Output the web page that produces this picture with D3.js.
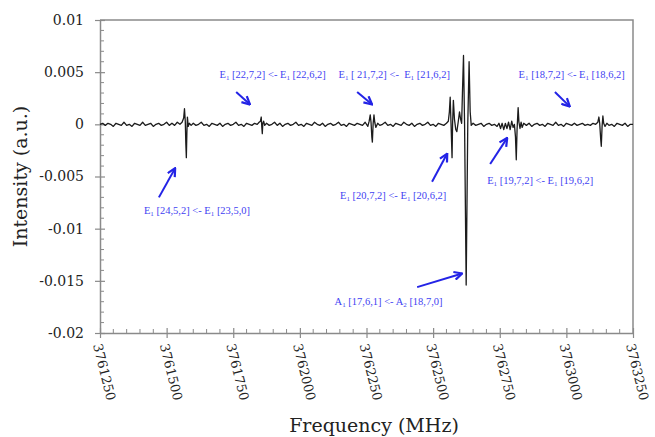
<!DOCTYPE html>
<html>
<head>
<meta charset="utf-8">
<script src="https://cdn.jsdelivr.net/npm/d3@7"></script>
<style>
  body { margin: 0; background: #fff; }
  svg { display: block; }
</style>
</head>
<body>
<svg id="chart" width="655" height="437"></svg>
<script>
// spectrum: frequency (MHz) and intensity (a.u.)
var spectrum = [
  [3761250, 0.0000], [3761260, 0.0001], [3761270, -0.0001], [3761280, 0.0001], [3761290, 0.0000],
  [3761300, -0.0002], [3761310, 0.0001], [3761320, 0.0000], [3761330, -0.0001], [3761340, 0.0002],
  [3761350, -0.0001], [3761360, 0.0000], [3761370, -0.0002], [3761380, 0.0001], [3761390, 0.0000],
  [3761400, -0.0001], [3761410, 0.0002], [3761420, -0.0001], [3761430, 0.0000], [3761440, 0.0001],
  [3761450, -0.0002], [3761460, 0.0000], [3761470, 0.0001], [3761480, -0.0001], [3761490, 0.0000],
  [3761500, 0.0002], [3761510, -0.0001], [3761520, 0.0001], [3761530, -0.0001], [3761540, 0.0002],
  [3761550, 0.0000], [3761558, 0.0002],
  [3761564, 0.0006], [3761567, 0.0015], [3761570, 0.0003], [3761572, -0.0018], [3761574, -0.0032],
  [3761576, -0.0008], [3761578, 0.0007], [3761581, -0.0002], [3761585, 0.0001], [3761592, -0.0001],
  [3761600, 0.0001], [3761610, -0.0001], [3761620, 0.0000], [3761630, 0.0002], [3761640, -0.0001],
  [3761650, 0.0000], [3761660, -0.0002], [3761670, 0.0001], [3761680, 0.0000], [3761690, -0.0001],
  [3761700, 0.0001], [3761710, -0.0002], [3761720, 0.0000], [3761730, 0.0001], [3761740, -0.0001],
  [3761750, 0.0000], [3761760, 0.0002], [3761770, -0.0001], [3761780, 0.0000], [3761790, -0.0002],
  [3761800, 0.0001], [3761810, 0.0000], [3761820, -0.0001], [3761830, 0.0001], [3761840, 0.0000],
  [3761847, 0.0002], [3761852, 0.0003], [3761855, 0.0007], [3761857, -0.0002], [3761859, -0.0009],
  [3761861, 0.0001], [3761864, 0.0003], [3761868, -0.0001], [3761875, 0.0001], [3761885, -0.0001],
  [3761895, 0.0000], [3761905, 0.0002], [3761915, -0.0001], [3761925, 0.0001], [3761935, -0.0002],
  [3761945, 0.0000], [3761955, 0.0001], [3761965, -0.0001], [3761975, 0.0000], [3761985, 0.0002],
  [3761995, -0.0001], [3762005, 0.0000], [3762015, -0.0002], [3762025, 0.0001], [3762035, 0.0000],
  [3762045, -0.0001], [3762055, 0.0002], [3762065, 0.0000], [3762075, -0.0001], [3762085, 0.0001],
  [3762095, -0.0002], [3762105, 0.0000], [3762115, 0.0001], [3762125, -0.0001], [3762135, 0.0000],
  [3762145, 0.0002], [3762155, -0.0001], [3762165, 0.0000], [3762175, -0.0002], [3762185, 0.0001],
  [3762195, 0.0000], [3762205, -0.0001], [3762215, 0.0001], [3762225, 0.0000], [3762235, -0.0001],
  [3762245, 0.0002], [3762255, -0.0002],
  [3762260, 0.0003], [3762264, 0.0009], [3762267, 0.0002], [3762270, -0.0012], [3762272, -0.0017],
  [3762275, 0.0001], [3762278, 0.0009], [3762281, 0.0002], [3762285, -0.0003], [3762292, 0.0001],
  [3762300, -0.0001], [3762310, 0.0000], [3762320, 0.0002], [3762330, -0.0001], [3762340, 0.0000],
  [3762350, -0.0002], [3762360, 0.0001], [3762370, 0.0000], [3762380, -0.0001], [3762390, 0.0002],
  [3762400, 0.0000], [3762410, -0.0001], [3762420, 0.0001], [3762430, -0.0002], [3762440, 0.0000],
  [3762450, 0.0001], [3762460, -0.0001], [3762470, 0.0000], [3762480, 0.0002], [3762490, -0.0001],
  [3762500, 0.0000], [3762510, -0.0002], [3762520, 0.0001], [3762530, 0.0000], [3762540, -0.0001],
  [3762550, 0.0001], [3762557, 0.0003], [3762561, 0.0012], [3762564, 0.0026], [3762567, 0.0002],
  [3762571, -0.0032], [3762573, 0.0000], [3762576, 0.0023], [3762580, 0.0005], [3762585, -0.0005],
  [3762589, -0.0007], [3762594, 0.0002], [3762599, 0.0012], [3762603, 0.0005], [3762607, 0.0001],
  [3762610, 0.0030], [3762614, 0.0066], [3762618, 0.0000], [3762624, -0.0154], [3762630, 0.0000],
  [3762635, 0.0060], [3762639, 0.0012], [3762643, -0.0001], [3762650, 0.0001], [3762660, -0.0001],
  [3762670, 0.0000], [3762680, 0.0001], [3762690, -0.0002], [3762700, 0.0000], [3762710, 0.0001],
  [3762720, -0.0001], [3762730, 0.0000], [3762740, -0.0002], [3762747, 0.0001], [3762753, -0.0004],
  [3762759, 0.0001], [3762765, -0.0005], [3762771, 0.0001], [3762777, -0.0004], [3762783, 0.0002],
  [3762789, -0.0005], [3762795, 0.0003], [3762800, -0.0003], [3762805, 0.0000], [3762809, -0.0012],
  [3762812, -0.0034], [3762815, -0.0005], [3762819, 0.0016], [3762822, 0.0002], [3762826, -0.0004],
  [3762830, 0.0002], [3762834, -0.0003], [3762840, 0.0001], [3762850, -0.0001], [3762860, 0.0001],
  [3762870, -0.0002], [3762880, 0.0000], [3762890, 0.0001], [3762900, -0.0001], [3762910, 0.0000],
  [3762920, -0.0002], [3762930, 0.0001], [3762940, 0.0000], [3762950, -0.0001], [3762960, 0.0002],
  [3762970, -0.0001], [3762980, 0.0000], [3762990, -0.0002], [3763000, 0.0001], [3763010, 0.0000],
  [3763020, -0.0001], [3763030, 0.0001], [3763040, -0.0001], [3763050, 0.0000], [3763060, 0.0001],
  [3763070, -0.0001], [3763080, 0.0000], [3763090, -0.0001], [3763100, 0.0001], [3763110, 0.0000],
  [3763118, 0.0002], [3763122, 0.0007], [3763125, 0.0001], [3763129, -0.0015], [3763131, -0.0021],
  [3763134, -0.0002], [3763137, 0.0008], [3763140, 0.0001], [3763145, -0.0002], [3763152, 0.0001],
  [3763160, -0.0001], [3763170, 0.0000], [3763180, -0.0002], [3763190, 0.0001], [3763200, 0.0000],
  [3763210, -0.0001], [3763220, 0.0001], [3763230, -0.0002], [3763240, 0.0000], [3763250, 0.0000]
];

// axis ticks
var xTicks = [3761250, 3761500, 3761750, 3762000, 3762250, 3762500, 3762750, 3763000, 3763250];
var yTicks = [0.01, 0.005, 0, -0.005, -0.01, -0.015, -0.02];
var yTickLabels = ["0.01", "0.005", "0", "-0.005", "-0.01", "-0.015", "-0.02"];

// assignments: label, text spot, arrow tail and arrow tip (all in freq / intensity)
var annLabels = [
  "E_1 [22,7,2] <- E_1 [22,6,2]",
  "E_1 [ 21,7,2] <-  E_1 [21,6,2]",
  "E_1 [18,7,2] <- E_1 [18,6,2]",
  "E_1 [24,5,2] <- E_1 [23,5,0]",
  "E_1 [20,7,2] <- E_1 [20,6,2]",
  "E_1 [19,7,2] <- E_1 [19,6,2]",
  "A_1 [17,6,1] <- A_2 [18,7,0]"
];
var annText = [[3761898, 0.0044], [3762354, 0.0044], [3763020, 0.0044], [3761614, -0.0086],
               [3762350, -0.0072], [3762902, -0.0057], [3762333, -0.0173]];
var annFrom = [[3761761, 0.0031], [3762215, 0.0031], [3762957, 0.0031], [3761471, -0.0070],
               [3762496, -0.0055], [3762714, -0.0038], [3762440, -0.0156]];
var annTo   = [[3761813, 0.0019], [3762271, 0.0019], [3763013, 0.0017], [3761532, -0.0042],
               [3762553, -0.0028], [3762778, -0.0013], [3762609, -0.0143]];

var margin = {left: 100, top: 20, right: 22, bottom: 104};
var svg = d3.select("#chart");
var W = +svg.attr("width"), H = +svg.attr("height");
var x0 = margin.left, x1 = W - margin.right, y0 = margin.top, y1 = H - margin.bottom;

var x = d3.scaleLinear().domain([3761250, 3763250]).range([x0, x1]);
var y = d3.scaleLinear().domain([-0.02, 0.01]).range([y1, y0]);

var axisCol = "#8a8a8a";
var serif = "'DejaVu Serif', serif";

// frame (top and right)
svg.append("path")
  .attr("d", "M" + x0 + "," + y0 + "H" + x1 + "V" + y1)
  .attr("fill", "none").attr("stroke", axisCol).attr("stroke-width", 1.5);

// minor ticks
var xMinor = d3.range(3761250, 3763250, 50).filter(function(d){ return (d - 3761250) % 250 != 0; });
var yMinor = d3.range(-20, 10, 1).filter(function(d){ return d % 5 != 0; }).map(function(d){ return d / 1000; });

svg.append("g").selectAll("line").data(xMinor).join("line")
  .attr("x1", function(d){ return x(d); }).attr("x2", function(d){ return x(d); })
  .attr("y1", y1).attr("y2", y1 - 4)
  .attr("stroke", axisCol).attr("stroke-width", 1);

svg.append("g").selectAll("line").data(yMinor).join("line")
  .attr("y1", function(d){ return y(d); }).attr("y2", function(d){ return y(d); })
  .attr("x1", x0).attr("x2", x0 + 4)
  .attr("stroke", axisCol).attr("stroke-width", 1);

// x axis
var gx = svg.append("g").attr("transform", "translate(0," + y1 + ")")
  .call(d3.axisBottom(x).tickValues(xTicks).tickSize(0).tickFormat(d3.format("d")));
gx.select(".domain").attr("stroke", axisCol).attr("stroke-width", 1.5);
gx.selectAll(".tick").append("line")
  .attr("y1", -5).attr("y2", 5).attr("stroke", axisCol).attr("stroke-width", 1.2);
gx.selectAll(".tick text")
  .attr("font-family", serif).attr("font-size", 13).attr("fill", "#222")
  .attr("text-anchor", "start")
  .attr("y", 0).attr("dy", "0.35em")
  .attr("transform", "translate(-3,11) rotate(76)");

// y axis
var gy = svg.append("g").attr("transform", "translate(" + x0 + ",0)")
  .call(d3.axisLeft(y).tickValues(yTicks).tickSize(0)
    .tickFormat(function(d, i){ return yTickLabels[i]; }));
gy.select(".domain").attr("stroke", axisCol).attr("stroke-width", 1.5);
gy.selectAll(".tick").append("line")
  .attr("x1", -5).attr("x2", 5).attr("stroke", axisCol).attr("stroke-width", 1.2);
gy.selectAll(".tick text")
  .attr("font-family", serif).attr("font-size", 14).attr("fill", "#222")
  .attr("x", -16);

// axis titles
svg.append("text")
  .attr("x", 374).attr("y", 432)
  .attr("text-anchor", "middle")
  .attr("font-family", serif).attr("font-size", 19).attr("fill", "#222")
  .text("Frequency (MHz)");

svg.append("text")
  .attr("transform", "translate(27," + ((y0 + y1) / 2) + ") rotate(-90)")
  .attr("text-anchor", "middle")
  .attr("font-family", serif).attr("font-size", 19).attr("fill", "#222")
  .text("Intensity (a.u.)");

// spectrum
var line = d3.line()
  .x(function(d){ return x(d[0]); })
  .y(function(d){ return y(d[1]); });

svg.append("path")
  .datum(spectrum)
  .attr("d", line)
  .attr("fill", "none")
  .attr("stroke", "#1c1c1c")
  .attr("stroke-width", 1.3)
  .attr("stroke-linejoin", "round");

// arrows
svg.append("defs").append("marker")
  .attr("id", "head")
  .attr("viewBox", "0 0 10 10")
  .attr("refX", 9).attr("refY", 5)
  .attr("markerWidth", 10).attr("markerHeight", 10)
  .attr("markerUnits", "userSpaceOnUse")
  .attr("orient", "auto")
  .append("path")
  .attr("d", "M1,1 L9,5 L1,9")
  .attr("fill", "none").attr("stroke", "#2323e6").attr("stroke-width", 2.2);

svg.append("g").selectAll("line").data(annFrom).join("line")
  .attr("x1", function(d){ return x(d[0]); }).attr("y1", function(d){ return y(d[1]); })
  .attr("x2", function(d, i){ return x(annTo[i][0]); }).attr("y2", function(d, i){ return y(annTo[i][1]); })
  .attr("stroke", "#2323e6").attr("stroke-width", 2)
  .attr("marker-end", "url(#head)");

// labels, "_1" marks a subscript
var labels = svg.append("g").selectAll("text").data(annLabels).join("text")
  .attr("x", function(d, i){ return x(annText[i][0]); })
  .attr("y", function(d, i){ return y(annText[i][1]); })
  .attr("text-anchor", "middle")
  .attr("font-family", "'Liberation Serif', serif")
  .attr("font-size", 10.5)
  .attr("fill", "#3f3ff2")
  .attr("xml:space", "preserve");

labels.each(function(d){
  var t = d3.select(this);
  var parts = d.split(/_(\d)/);
  parts.forEach(function(p, k){
    if (k % 2 == 1) {
      t.append("tspan").attr("font-size", 7).attr("dy", 2).text(p);
    } else if (p.length) {
      t.append("tspan").attr("dy", k == 0 ? 0 : -2).text(p);
    }
  });
});
</script>
</body>
</html>
